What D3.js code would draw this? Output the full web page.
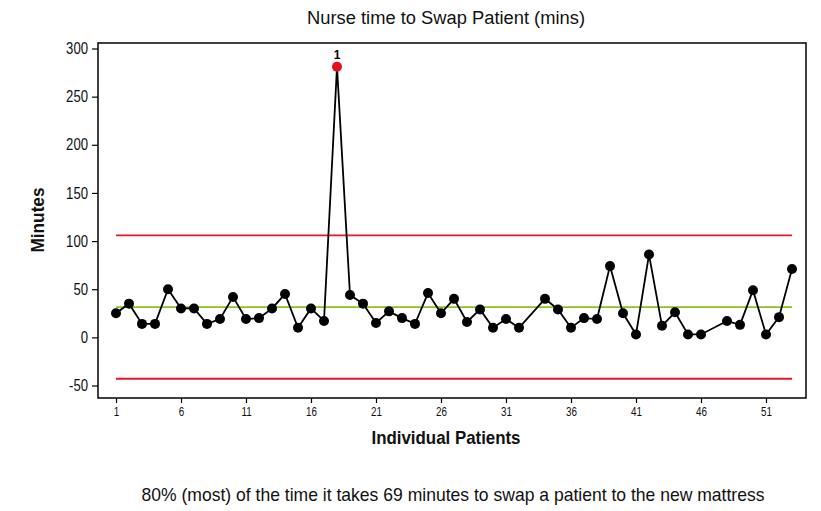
<!DOCTYPE html>
<html><head><meta charset="utf-8">
<script src="https://cdn.jsdelivr.net/npm/d3@7"></script>
<style>
body{margin:0;background:#fff;}
text{font-family:"Liberation Sans",Arial,sans-serif;}
</style></head><body>
<svg id="c" width="821" height="511"></svg>
<script>
const patients = [1,2,3,4,5,6,7,8,9,10,11,12,13,14,15,16,17,18,19,20,21,22,23,24,25,26,27,28,29,30,31,32,34,35,36,37,38,39,40,41,42,43,44,45,46,48,49,50,51,52,53];
const minutes  = [25,35,14,14,50,30,30,14,19,42,19,20,30,45,10,30,17,281,44,35,15,27,20,14,46,25,40,16,29,10,19,10,40,29,10,20,19,74,25,3,86,12,26,3,3,17,13,49,3,21,71];
const centerLine = 31.5;
const upperLimit = 106;
const lowerLimit = -43;
const yTicks = [-50,0,50,100,150,200,250,300];
const xTicks = [1,6,11,16,21,26,31,36,41,46,51];
const outOfControl = [{patient:18, label:"1"}];

const svg = d3.select("#c");
const x = d3.scaleLinear().domain([1,53]).range([116,792]);
const y = d3.scaleLinear().domain([-50,300]).range([385.5,48.5]);
const L=98,R=806,T=43,B=398;

function condense(sel, f){
  sel.each(function(){
    const w = this.getComputedTextLength();
    d3.select(this).attr("textLength", w*f).attr("lengthAdjust","spacingAndGlyphs");
  });
}

svg.append("rect").attr("x",L).attr("y",T).attr("width",R-L).attr("height",B-T)
  .attr("fill","none").attr("stroke","#000").attr("stroke-width",1.5);

// y axis
const ya = svg.append("g").attr("transform",`translate(${L},0)`)
  .call(d3.axisLeft(y).tickValues(yTicks).tickSize(6).tickPadding(4).tickFormat(d=>String(d)));
ya.select(".domain").remove();
ya.selectAll("text").attr("font-size",16).attr("fill","#111").call(condense,0.82);
ya.selectAll("line").attr("stroke","#000").attr("stroke-width",1.2);

// x axis
const xa = svg.append("g").attr("transform",`translate(0,${B})`)
  .call(d3.axisBottom(x).tickValues(xTicks).tickSize(5).tickPadding(4).tickFormat(d=>String(d)));
xa.select(".domain").remove();
xa.selectAll("text").attr("font-size",12).attr("fill","#111").call(condense,0.82);
xa.selectAll("line").attr("stroke","#000").attr("stroke-width",1.2);

// control lines
[upperLimit, lowerLimit].forEach(v=>{
  svg.append("line").attr("x1",x(1)).attr("x2",x(53)).attr("y1",y(v)).attr("y2",y(v))
    .attr("stroke","#e8142a").attr("stroke-width",1.8);
});
svg.append("line").attr("x1",x(1)).attr("x2",x(53)).attr("y1",y(centerLine)).attr("y2",y(centerLine))
  .attr("stroke","#8cc21c").attr("stroke-width",1.8);

const data = patients.map((p,i)=>({p, v:minutes[i]}));
svg.append("path").datum(data)
  .attr("d", d3.line().x(d=>x(d.p)).y(d=>y(d.v)))
  .attr("fill","none").attr("stroke","#000").attr("stroke-width",1.8);

const ooc = new Set(outOfControl.map(d=>d.patient));
svg.selectAll("circle.pt").data(data).enter().append("circle")
  .attr("cx",d=>x(d.p)).attr("cy",d=>y(d.v)).attr("r",5)
  .attr("fill",d=>ooc.has(d.p)?"#e3101c":"#000");

outOfControl.forEach(o=>{
  const d = data.find(e=>e.p===o.patient);
  svg.append("text").attr("x",x(d.p)).attr("y",y(d.v)-8).attr("text-anchor","middle")
    .attr("font-size",12).attr("font-weight","bold").text(o.label);
});

svg.append("text").attr("x",446).attr("y",24).attr("text-anchor","middle")
  .attr("font-size",18).attr("fill","#111").attr("textLength",278).attr("lengthAdjust","spacingAndGlyphs")
  .text("Nurse time to Swap Patient (mins)");
svg.append("text").attr("transform","translate(44,220) rotate(-90)").attr("text-anchor","middle")
  .attr("font-size",19).attr("font-weight","bold").attr("fill","#111").attr("textLength",65).attr("lengthAdjust","spacingAndGlyphs")
  .text("Minutes");
svg.append("text").attr("x",446).attr("y",444).attr("text-anchor","middle")
  .attr("font-size",19).attr("font-weight","bold").attr("fill","#111").attr("textLength",149).attr("lengthAdjust","spacingAndGlyphs")
  .text("Individual Patients");
svg.append("text").attr("x",453).attr("y",501).attr("text-anchor","middle")
  .attr("font-size",19).attr("fill","#111").attr("textLength",623).attr("lengthAdjust","spacingAndGlyphs")
  .text("80% (most) of the time it takes 69 minutes to swap a patient to the new mattress");
</script></body></html>
